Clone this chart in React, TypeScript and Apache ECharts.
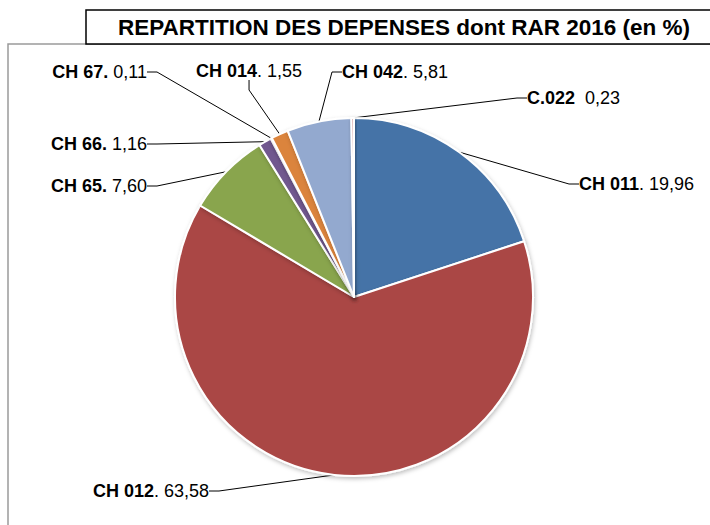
import React, { useEffect, useRef } from "react";
import * as echarts from "echarts";

const categories = ["CH 011", "CH 012", "CH 65", "CH 66", "CH 67", "CH 014", "CH 042", "C.022"];
const values = [19.96, 63.58, 7.6, 1.16, 0.11, 1.55, 5.81, 0.23];
const separators = [". ", ". ", ". ", ". ", ". ", ". ", ". ", "  "];
const boldSeparator = [false, false, true, true, true, false, false, false];
const colors = ["#4573A7", "#AA4644", "#89A54E", "#71588F", "#4198AF", "#DB843D", "#93A9CF", "#D09493"];
const title = "REPARTITION DES DEPENSES dont RAR 2016 (en %)";

// label anchor positions [x, y, align]
const labelPos: [number, number, string][] = [
  [579, 184, "left"],
  [209, 491, "right"],
  [147, 186, "right"],
  [147, 144, "right"],
  [147, 72, "right"],
  [196, 71, "left"],
  [342, 72, "left"],
  [527, 98, "left"],
];

const fmt = (v: number) => v.toFixed(2).replace(".", ",");

export default function App() {
  const ref = useRef<HTMLDivElement>(null);
  useEffect(() => {
    if (!ref.current) return;
    const chart = echarts.init(ref.current, null, { renderer: "svg" });
    const font = "'Liberation Sans Narrow', 'Arial Narrow', 'Liberation Sans', Arial, sans-serif";
    chart.setOption({
      animation: false,
      backgroundColor: "#ffffff",
      graphic: [
        {
          type: "rect",
          shape: { x: 8, y: 44, width: 720, height: 500 },
          style: { fill: "none", stroke: "#9a9a9a", lineWidth: 1.5 },
          z: 0,
        },
        {
          type: "rect",
          shape: { x: 86, y: 10, width: 640, height: 34 },
          style: { fill: "#ffffff", stroke: "#000000", lineWidth: 1.5 },
          z: 1,
        },
        {
          type: "text",
          x: 404,
          y: 27,
          style: {
            text: title,
            fill: "#000",
            font: "bold 22.5px 'Liberation Sans', Arial, sans-serif",
            align: "center",
            verticalAlign: "middle",
          },
          z: 2,
        },
      ],
      series: [
        {
          type: "pie",
          center: [354, 297],
          radius: 179,
          startAngle: 90,
          clockwise: true,
          avoidLabelOverlap: false,
          itemStyle: {
            borderColor: "#ffffff",
            borderWidth: 2,
            shadowColor: "rgba(0,0,0,0.25)",
            shadowBlur: 4,
            shadowOffsetX: 1,
            shadowOffsetY: 2,
          },
          label: {
            show: true,
            fontFamily: font,
            fontSize: 18,
            color: "#000",
            formatter: (p: any) => {
              const i = p.dataIndex;
              const sep = boldSeparator[i] ? `{b|${separators[i].trim()}} ` : `{n|${separators[i]}}`;
              return `{b|${categories[i]}}${sep}{n|${fmt(values[i])}}`;
            },
            rich: {
              b: { fontWeight: "bold", fontFamily: font, fontSize: 18, color: "#000" },
              n: { fontFamily: font, fontSize: 18, color: "#000" },
            },
          },
          labelLine: {
            show: true,
            length: 20,
            length2: 10,
            lineStyle: { color: "#000", width: 1 },
          },
          labelLayout: (params: any) => {
            const p = labelPos[params.dataIndex];
            return { x: p[0], y: p[1], align: p[2], verticalAlign: "middle" };
          },
          data: categories.map((c, i) => ({
            name: c,
            value: values[i],
            itemStyle: { color: colors[i] },
          })),
        },
      ],
    });
    return () => chart.dispose();
  }, []);
  return (
    <div
      ref={ref}
      style={{ position: "fixed", left: 0, top: 0, width: 710, height: 525 }}
    />
  );
}
